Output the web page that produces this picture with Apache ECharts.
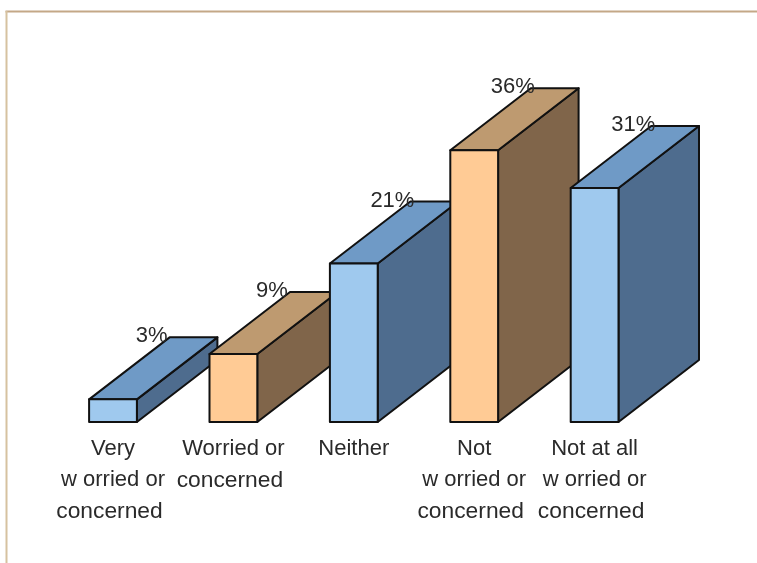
<!DOCTYPE html>
<html>
<head>
<meta charset="utf-8">
<style>html,body{margin:0;padding:0;background:#fff}#c{width:757px;height:563px}</style>
<script src="https://cdn.jsdelivr.net/npm/echarts@6/dist/echarts.min.js"></script>
</head>
<body>
<div id="c"></div>
<script>
var categories = ['Very\nw orried or\nconcerned','Worried or\nconcerned','Neither','Not\nw orried or\nconcerned','Not at all\nw orried or\nconcerned'];
var values = [3, 9, 21, 36, 31];
var labels = ['3%','9%','21%','36%','31%'];
var blueFaces = ['#9FC9EE','#6F9AC6','#4E6C8E'];
var orangeFaces = ['#FFCB95','#BE9A70','#80654A'];
var faceSets = [blueFaces, orangeFaces, blueFaces, orangeFaces, blueFaces];
var DX = 80.5, DY = 62, EDGE = '#111111';
var font = '"Liberation Sans", Arial, sans-serif';

var chart = echarts.init(document.getElementById('c'), null, {renderer:'canvas'});
function face(points, fill){
  return {type:'polygon', shape:{points:points}, style:{fill:fill, stroke:EDGE, lineWidth:2, lineJoin:'round'}};
}
chart.setOption({
  animation:false,
  backgroundColor:'#ffffff',
  grid:{left:52.8, width:602, top:120, height:302},
  xAxis:{type:'category', data:categories,
    axisLine:{show:false}, axisTick:{show:false},
    axisLabel:{interval:0, margin:11, color:'#2a2a2a', fontSize:22, lineHeight:31.5, fontFamily:font, verticalAlign:'top',
      formatter:function(v){
        return v.split('\n').map(function(line){
          return (line==='concerned' ? '{c|' : '{m|')+line+'}';
        }).join('\n');
      },
      rich:{
        c:{fontSize:22.8, lineHeight:31.5, color:'#2a2a2a', fontFamily:font, padding:[0,7,0,0]},
        m:{fontSize:22, lineHeight:31.5, color:'#2a2a2a', fontFamily:font}
      }}},
  yAxis:{type:'value', min:0, max:40, show:false, splitLine:{show:false}},
  graphic:[
    {type:'line', silent:true, shape:{x1:5.5, y1:11.5, x2:757, y2:11.5}, style:{stroke:'#C4A887', lineWidth:2}},
    {type:'line', silent:true, shape:{x1:6.5, y1:11, x2:6.5, y2:563}, style:{stroke:'#D6C2A0', lineWidth:2}}
  ],
  series:[{
    type:'custom', clip:false,
    data:values.map(function(v,i){return [i,v];}),
    encode:{x:0,y:1},
    renderItem:function(params, api){
      var i = api.value(0);
      var top = api.coord([i, api.value(1)]);
      var base = api.coord([i, 0]);
      var w = api.size([1,0])[0]*0.397;
      var l = top[0]-w/2, r = top[0]+w/2, t = top[1], b = base[1];
      var f = faceSets[i];
      return {type:'group', children:[
        face([[r,t],[r+DX,t-DY],[r+DX,b-DY],[r,b]], f[2]),
        face([[l,t],[l+DX,t-DY],[r+DX,t-DY],[r,t]], f[1]),
        face([[l,t],[r,t],[r,b],[l,b]], f[0]),
        {type:'text', z2:10, style:{text:labels[i], x:l+DX-18, y:t-DY-1, textAlign:'center', textVerticalAlign:'middle',
          fill:'#2a2a2a', font:'22px '+font}}
      ]};
    }
  }]
});
</script>
</body>
</html>
